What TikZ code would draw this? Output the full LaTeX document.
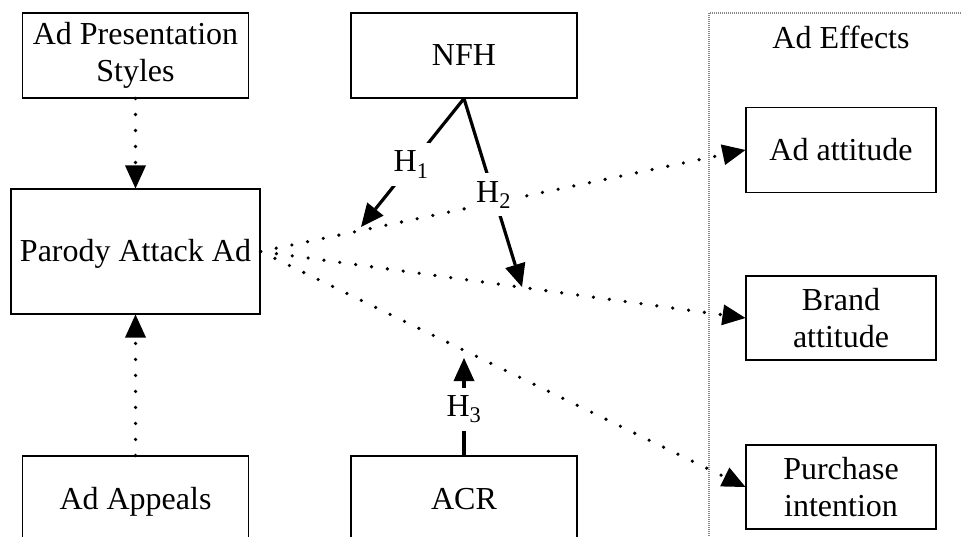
\documentclass[tikz,border=0pt]{standalone}
\usepackage{fontspec}
\setmainfont{Liberation Serif}
\usetikzlibrary{arrows.meta,calc}
\definecolor{framegray}{RGB}{135,135,135}
\begin{document}
\begin{tikzpicture}[x=1pt,y=-1pt,
  box/.style={draw=black, line width=1.1pt, minimum width=226pt, minimum height=85pt,
    inner sep=0pt, align=center, font=\fontsize{32}{37}\selectfont},
  oneline/.style={text height=24pt, text depth=3pt},
  dotarrow/.style={line width=3.6pt, line cap=round, dash pattern=on 0pt off 16pt,
    -{Triangle[length=23pt,width=21pt,line width=0pt]}},
  harrow/.style={line width=3.2pt, -{Triangle[length=23pt,width=21pt,line width=0pt]}},
  hlab/.style={fill=white, inner xsep=2pt, inner ysep=8pt, font=\fontsize{32}{37}\selectfont},
  plain/.style={font=\fontsize{32}{37}\selectfont, inner sep=0pt}
]
\useasboundingbox (0,0) rectangle (961,537);
\clip (0,0) rectangle (961,537);

% Ad Effects frame
\draw[framegray, line width=1.2pt, dash pattern=on 1pt off 1pt] (709,13) rectangle (990,570);
\node[plain, anchor=base] (eff) at (841,48.3) {Ad Effects};

% boxes
\node[box] (aps) at (135.5,55.5) {Ad Presentation\\Styles};
\node[box, oneline] (nfh) at (464,55.5) {NFH};
\node[box, oneline, minimum width=249pt, minimum height=125pt] (pa) at (135.5,251.5) {Parody Attack Ad};
\node[box, oneline] (aap) at (135.5,498.5) {Ad Appeals};
\node[box, oneline] (acr) at (464,498.5) {ACR};
\node[box, oneline, minimum width=190pt] (aa) at (841,150) {Ad attitude};
\node[box, minimum width=190pt, minimum height=84pt] (ba) at (841,318) {Brand\\attitude};
\node[box, minimum width=190pt, minimum height=84pt] (pi) at (841,487) {Purchase\\intention};

% dotted connectors
\draw[dotarrow] (aps.south) -- (pa.north);
\draw[dotarrow] (aap.north) -- (pa.south);
\draw[dotarrow] (pa.east) -- (aa.west);
\draw[dotarrow] (pa.east) -- (ba.west);
\draw[dotarrow] (pa.east) -- (pi.west);

% hypothesis arrows
\coordinate (t1) at (361,227);
\coordinate (t2) at (522,287);
\coordinate (t3) at (464,358);
\draw[harrow] (nfh.south) -- node[hlab, pos=0.514] (h1) {H\textsubscript{1}} (t1);
\draw[harrow] (nfh.south) -- node[hlab, pos=0.51] (h2) {H\textsubscript{2}} (t2);
\draw[harrow] (acr.north) -- node[hlab, pos=0.474] (h3) {H\textsubscript{3}} (t3);
\end{tikzpicture}
\end{document}
